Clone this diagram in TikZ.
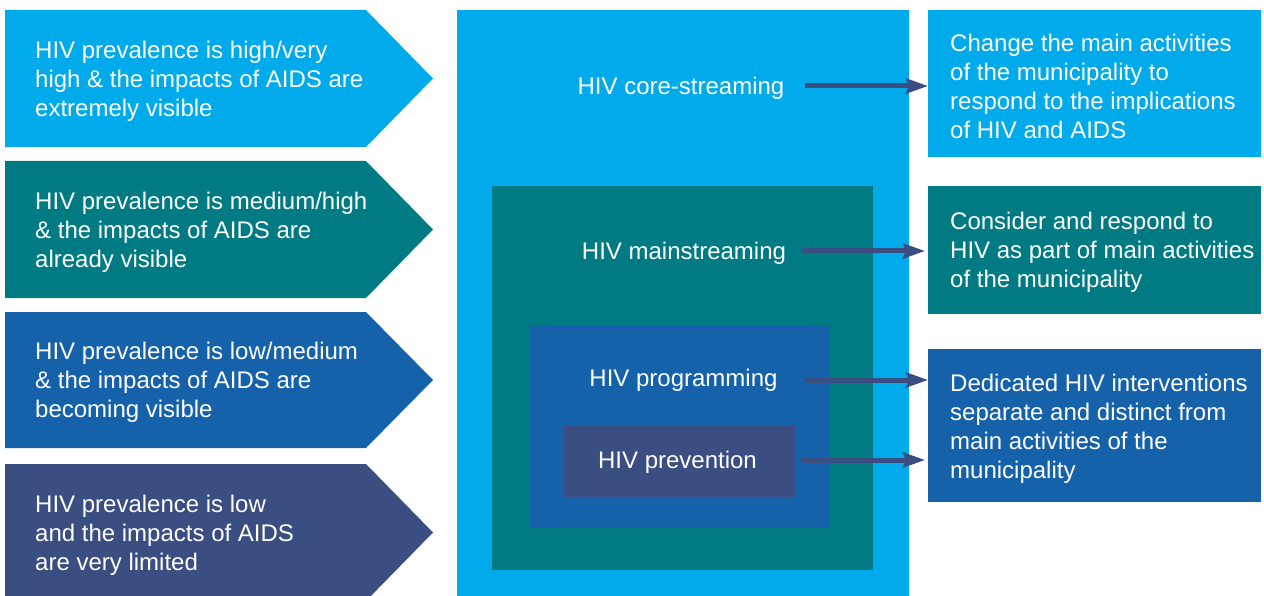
\documentclass[tikz,border=0pt]{standalone}
\usepackage{fontspec}
\setmainfont{Liberation Sans}
\usetikzlibrary{arrows.meta}
\definecolor{cLight}{RGB}{0,170,235}
\definecolor{cTeal}{RGB}{0,123,131}
\definecolor{cBlue}{RGB}{21,98,171}
\definecolor{cNavy}{RGB}{58,78,130}
\begin{document}
\begin{tikzpicture}[x=1pt,y=-1pt,
  txt/.style={text=white, font=\fontsize{24}{29}\selectfont, align=left, inner sep=0pt},
  panel/.style={draw=none, inner sep=0pt, outer sep=0pt, anchor=north west},
  arr/.style={draw=cNavy, line width=5pt, -{Stealth[length=22pt,width=15pt,inset=3pt]}}]
\useasboundingbox (0,0) rectangle (1264,596);
\clip (0,0) rectangle (1264,596);
% chevrons
\fill[cLight] (5,10) -- (366,10) -- (433,78.5) -- (366,147) -- (5,147) -- cycle;
\fill[cTeal] (5,161) -- (366,161) -- (433,229.5) -- (366,298) -- (5,298) -- cycle;
\fill[cBlue] (5,312) -- (366,312) -- (433,380) -- (366,448) -- (5,448) -- cycle;
\fill[cNavy] (5,464) -- (366,464) -- (433,532.5) -- (366,601) -- (5,601) -- cycle;
\node[txt, anchor=west] (c1) at (35,81) {HIV prevalence is high/very\\high \& the impacts of AIDS are\\extremely visible};
\node[txt, anchor=west] (c2) at (35,232) {HIV prevalence is medium/high\\\& the impacts of AIDS are\\already visible};
\node[txt, anchor=west] (c3) at (35,382) {HIV prevalence is low/medium\\\& the impacts of AIDS are\\becoming visible};
\node[txt, anchor=west] (c4) at (35,535) {HIV prevalence is low\\and the impacts of AIDS\\are very limited};
% nested boxes
\node[panel, fill=cLight, minimum width=452, minimum height=600] (core) at (457,10) {};
\node[panel, fill=cTeal, minimum width=381, minimum height=384] (main) at (492,186) {};
\node[panel, fill=cBlue, minimum width=300, minimum height=202] (prog) at (530,325) {};
\node[panel, fill=cNavy, minimum width=231, minimum height=71] (prev) at (564,426) {};
\node[txt, anchor=base] (tcore) at (681,94.5) {HIV core-streaming};
\node[txt, anchor=base] (tmain) at (684,259.5) {HIV mainstreaming};
\node[txt, anchor=base] (tprog) at (683.5,386.5) {HIV programming};
\node[txt, anchor=base] (tprev) at (677.5,468) {HIV prevention};
% right boxes
\node[panel, fill=cLight, minimum width=333, minimum height=147] (r1) at (928,10) {};
\node[panel, fill=cTeal, minimum width=333, minimum height=128] (r2) at (928,186) {};
\node[panel, fill=cBlue, minimum width=333, minimum height=153] (r3) at (928,349) {};
\node[txt, anchor=west] (t1) at (950,86) {Change the main activities\\of the municipality to\\respond to the implications\\of HIV and AIDS};
\node[txt, anchor=west] (t2) at (950,252) {Consider and respond to\\HIV as part of main activities\\of the municipality};
\node[txt, anchor=west] (t3) at (950,429) {Dedicated HIV interventions\\separate and distinct from\\main activities of the\\municipality};
% arrows
\coordinate (a1) at (805,86);
\coordinate (a2) at (801,251);
\coordinate (a3) at (805,380);
\coordinate (a4) at (801,460);
\draw[arr] (a1) -- (a1 -| r1.west);
\draw[arr, shorten >=3pt] (a2) -- (a2 -| r2.west);
\draw[arr] (a3) -- (a3 -| r3.west);
\draw[arr, shorten >=3pt] (a4) -- (a4 -| r3.west);
\end{tikzpicture}
\end{document}
